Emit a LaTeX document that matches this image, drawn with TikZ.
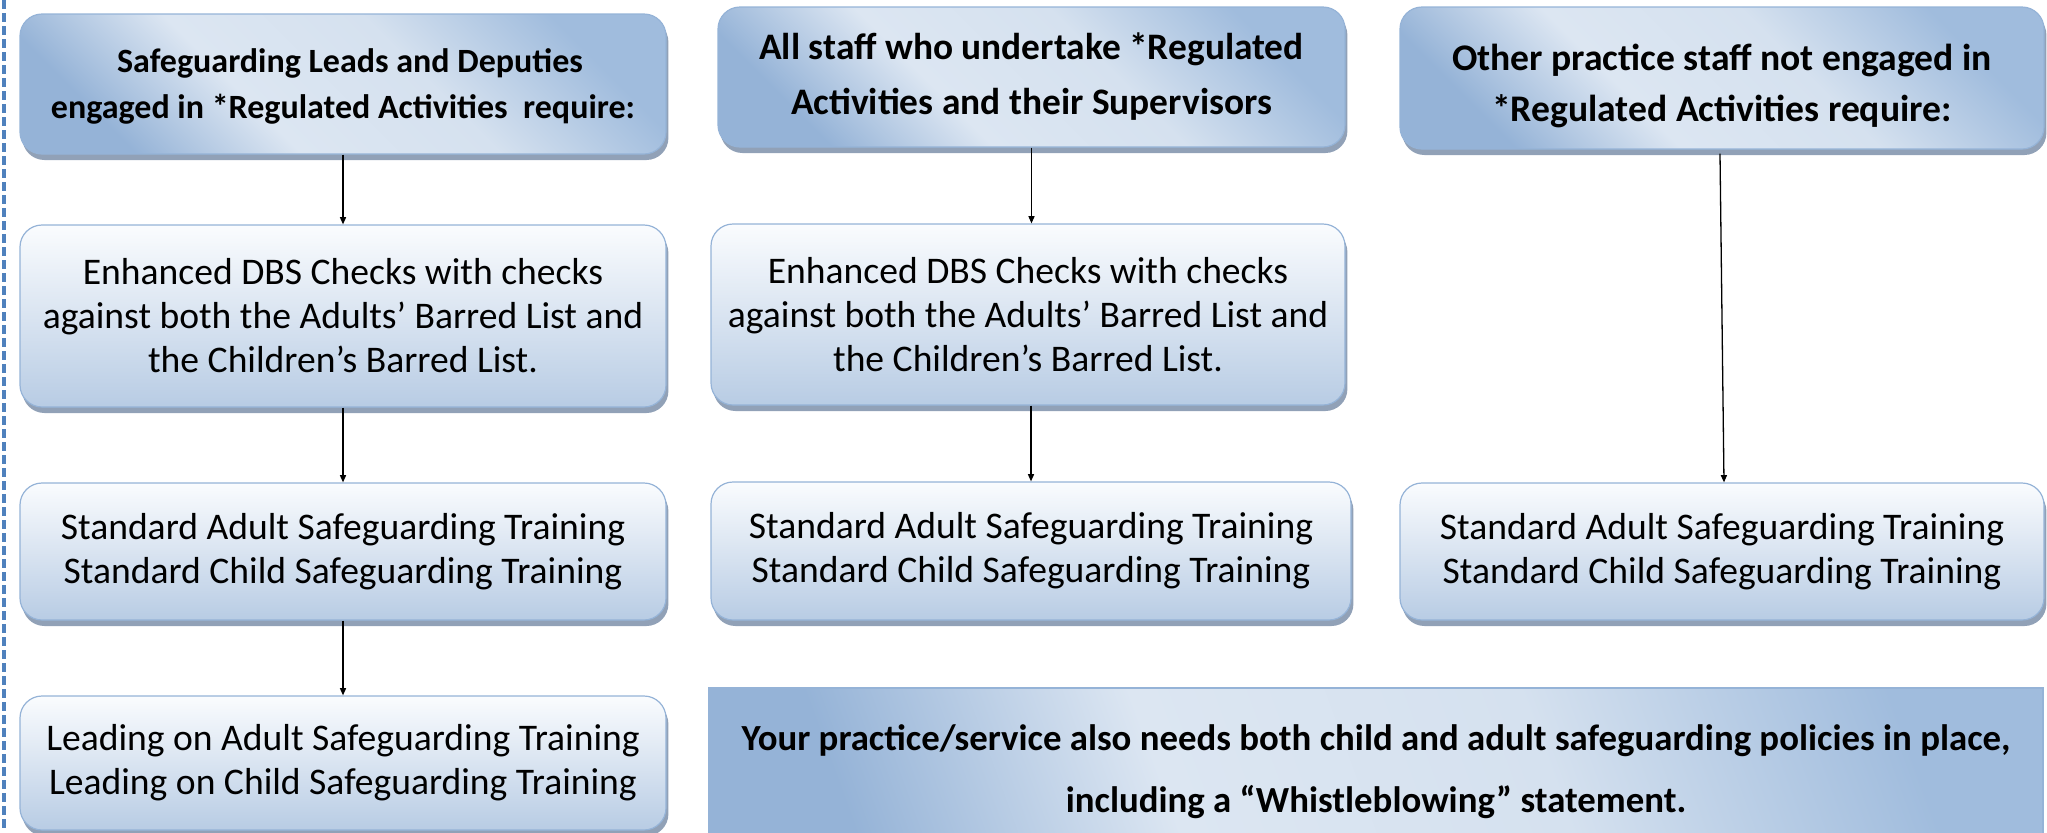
\documentclass[tikz,border=0pt]{standalone}
\usepackage{fontspec}
\setmainfont{Carlito}
\usetikzlibrary{shadows,arrows.meta}
\definecolor{hdark}{HTML}{95B3D7}
\definecolor{hdark2}{HTML}{A0BCDD}
\definecolor{hlight}{HTML}{DCE6F2}
\definecolor{hlight2}{HTML}{D5E1EF}
\definecolor{btop}{HTML}{FAFCFE}
\definecolor{bmid}{HTML}{DCE6F2}
\definecolor{bbot}{HTML}{B8CCE4}
\definecolor{edge}{HTML}{95B3D7}
\definecolor{shadowc}{HTML}{8597AF}
\definecolor{dashc}{HTML}{4F81BD}
\pgfdeclarehorizontalshading{hdrshade}{100bp}{color(0bp)=(hdark); color(25bp)=(hdark); color(40bp)=(hlight); color(58bp)=(hlight2); color(75bp)=(hdark2); color(100bp)=(hdark2)}
\pgfdeclareverticalshading{bodyshade}{100bp}{color(0bp)=(bbot); color(25bp)=(bbot); color(52bp)=(bmid); color(75bp)=(btop); color(100bp)=(btop)}
\tikzset{
  wh/.style 2 args={minimum width=#1*0.5pt, minimum height=#2*0.5pt},
  shad/.style={drop shadow={shadow xshift=1.2pt, shadow yshift=-3pt, fill=shadowc, opacity=0.9}},
  hdr/.style={rectangle, rounded corners=11pt, draw=edge, line width=0.6pt, shading=hdrshade, shading angle=45, shad, align=center, inner sep=0pt, font=\bfseries\fontsize{18.7}{27}\selectfont},
  hdrtext/.style={align=center, inner sep=0pt},
  body/.style={rectangle, rounded corners=11pt, draw=edge, line width=0.6pt, shading=bodyshade, shad, align=center, inner sep=0pt, font=\fontsize{18.8}{22}\selectfont},
  arr/.style={line width=0.65pt, -{Triangle[length=3.6pt,width=3pt]}},
}
\begin{document}
\begin{tikzpicture}[x=0.5pt,y=-0.5pt]
\useasboundingbox (0,0) rectangle (2047,832);
\begin{scope}
\clip (0,0) rectangle (2047,832);
\draw[dashc, line width=1.6pt, dash pattern=on 4.5pt off 2pt] (4,0) -- (4,832);
% column A
\node[hdr, wh={646}{140}] (A1) at (343,84) {};
\node[hdrtext, font=\bfseries\fontsize{17}{23}\selectfont] (A1t) at ([yshift=-1.4pt]A1.center) {\hspace*{7pt}Safeguarding Leads and Deputies\\engaged in *Regulated Activities\ \ require:};
\node[body, wh={646}{182}] (A2) at (343,316) {Enhanced DBS Checks with checks\\against both the Adults’ Barred List and\\the Children’s Barred List.};
\node[body, wh={646}{137}] (A3) at (343,551.5) {Standard Adult Safeguarding Training\\Standard Child Safeguarding Training};
\node[body, wh={646}{134}] (A4) at (343,763) {Leading on Adult Safeguarding Training\\Leading on Child Safeguarding Training};
% column B
\node[hdr, wh={627}{140}, font=\bfseries\fontsize{18.7}{27.5}\selectfont] (B1) at (1031.5,77) {All staff who undertake *Regulated\\Activities and their Supervisors};
\node[body, wh={634}{181}] (B2) at (1028,314.5) {Enhanced DBS Checks with checks\\against both the Adults’ Barred List and\\the Children’s Barred List.};
\node[body, wh={640}{138}] (B3) at (1031,551) {Standard Adult Safeguarding Training\\Standard Child Safeguarding Training};
% column C
\node[hdr, wh={644}{142}] (C1) at (1722,78) {};
\node[hdrtext, font=\bfseries\fontsize{18.8}{25.5}\selectfont] (C1t) at ([yshift=-4.2pt]C1.center) {Other practice staff not engaged in\\*Regulated Activities require:};
\node[body, wh={644}{137}] (C3) at (1722,551.5) {Standard Adult Safeguarding Training\\Standard Child Safeguarding Training};
% bottom note
\node[rectangle, draw=edge, line width=0.6pt, shading=hdrshade, shading angle=20, align=center, inner sep=0pt, wh={1334}{168}, font=\bfseries\fontsize{18.4}{31}\selectfont] (D) at (1376,772) {Your practice/service also needs both child and adult safeguarding policies in place,\\including a “Whistleblowing” statement.};
% connectors
\draw[arr] (A1.south) -- (A2.north);
\draw[arr] (A2.south) -- (A3.north);
\draw[arr] (A3.south) -- (A4.north);
\draw[arr] (B1.south) -- (B1.south |- B2.north);
\draw[arr] (B3.north |- B2.south) -- (B3.north);
\draw[arr] ([xshift=-1pt,yshift=-2pt]C1.south) -- ([xshift=1pt]C3.north);
\end{scope}
\end{tikzpicture}
\end{document}
